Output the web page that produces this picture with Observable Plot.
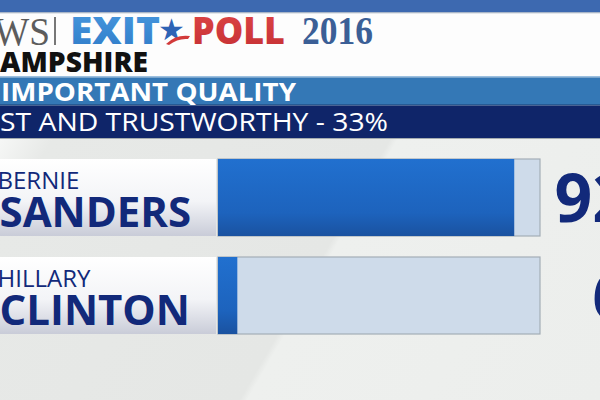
<!DOCTYPE html>
<html>
<head>
<meta charset="utf-8">
<script src="https://cdn.jsdelivr.net/npm/d3@7"></script>
<script src="https://cdn.jsdelivr.net/npm/@observablehq/plot@0.6"></script>
<style>
  html, body { margin: 0; padding: 0; }
  body { width: 600px; height: 400px; overflow: hidden; position: relative; font-family: "Open Sans", sans-serif; background: #e8eae8; }
  #header { position: absolute; left: 0; top: 0; width: 600px; height: 139px; }
  #chart { position: absolute; left: 0; top: 139px; width: 600px; height: 261px;
    background: linear-gradient(120deg, #f6f7f6 0%, #e7e9e7 7%, #e5e7e5 52%, #eef0ee 53%, #eceeec 100%); }
  #chart svg { display: block; }
</style>
</head>
<body>
<svg id="header" width="600" height="139" xmlns="http://www.w3.org/2000/svg">
  <defs>
    <linearGradient id="exitGrad" x1="0" y1="0" x2="0" y2="1">
      <stop offset="0" stop-color="#4a9be0"/>
      <stop offset="1" stop-color="#2f7bc8"/>
    </linearGradient>
    <linearGradient id="pollGrad" x1="0" y1="0" x2="0" y2="1">
      <stop offset="0" stop-color="#e04848"/>
      <stop offset="1" stop-color="#c42f33"/>
    </linearGradient>
  </defs>
  <rect x="0" y="0" width="600" height="12" fill="#3d69b0"/>
  <rect x="0" y="12" width="600" height="1.5" fill="#a9b6c8"/>
  <rect x="0" y="13.5" width="600" height="62.5" fill="#fdfdfd"/>
  <rect x="0" y="76" width="600" height="1.5" fill="#9cc0e0"/>
  <rect x="0" y="77.5" width="600" height="26.5" fill="#3478b6"/>
  <rect x="0" y="104" width="600" height="1.5" fill="#265a94"/>
  <rect x="0" y="105.5" width="600" height="32.5" fill="#0f2569"/>
  <rect x="0" y="138" width="600" height="1" fill="#a4acb0"/>
  <text x="-6" y="45" font-family="Liberation Serif" font-size="41" fill="#5c5c5c" textLength="56" lengthAdjust="spacingAndGlyphs">WS</text>
  <rect x="54" y="17" width="2" height="28" fill="#777"/>
  <text x="70" y="43.5" font-family="Open Sans" font-weight="800" font-size="37" fill="url(#exitGrad)" textLength="90" lengthAdjust="spacingAndGlyphs">EXIT</text>
  <text x="158" y="40" font-family="DejaVu Sans" font-size="30" fill="#2d63b5">★</text>
  <path d="M166 44 Q176 34 190 36 L188 39 Q178 38 169 45 Z" fill="#d23a3a"/>
  <text x="192" y="43.5" font-family="Open Sans" font-weight="800" font-size="37" fill="url(#pollGrad)" textLength="93" lengthAdjust="spacingAndGlyphs">POLL</text>
  <text x="302" y="44" font-family="Liberation Serif" font-weight="700" font-size="39" fill="#3b5f96" textLength="71" lengthAdjust="spacingAndGlyphs">2016</text>
  <text x="0" y="71.5" font-family="Open Sans" font-weight="800" font-size="28.5" fill="#111" textLength="148" lengthAdjust="spacingAndGlyphs">AMPSHIRE</text>
  <text x="1" y="100.5" font-family="Open Sans" font-weight="700" font-size="25.5" fill="#ffffff" textLength="295" lengthAdjust="spacingAndGlyphs">IMPORTANT QUALITY</text>
  <text x="0" y="131" font-family="Open Sans" font-weight="400" font-size="25.5" fill="#ffffff" textLength="388" lengthAdjust="spacingAndGlyphs">ST AND TRUSTWORTHY - 33%</text>
</svg>
<div id="chart"></div>
<script>
// ---- data ----
const firstNames = ["BERNIE", "HILLARY"];
const lastNames = ["SANDERS", "CLINTON"];
const shares = [92, 6];

const data = lastNames.map((last, i) => ({ first: firstNames[i], last, share: shares[i] }));

const navy = "#12297a";

const plot = Plot.plot({
  width: 600,
  height: 261,
  margin: 0,
  style: { background: "transparent", fontFamily: "Open Sans" },
  x: { domain: [0, 100], range: [218, 540], axis: null },
  y: { domain: lastNames, range: [19, 196], paddingInner: 0.2121, paddingOuter: 0, axis: null },
  marks: [
    // name panel behind labels
    Plot.barX(data, { x1: 0, x2: 0, y: "last", insetLeft: -218, insetRight: 2, fill: "url(#panelGrad)" }),
    // track
    Plot.barX(data, { x1: 0, x2: 100, y: "last", fill: "#cedbea", stroke: "#a4adb6", strokeWidth: 1.2 }),
    // filled share
    Plot.barX(data, { x1: 0, x2: "share", y: "last", fill: "url(#barGrad)" }),
    Plot.ruleX(data, { x: "share", y: "last", stroke: "#63aef2", strokeWidth: 1.5 }),
    // names
    Plot.text(data, { y: "last", text: "first", frameAnchor: "left", textAnchor: "start", lineAnchor: "bottom",
      dx: -3, dy: -9.5, fontSize: 24, fill: navy }),
    Plot.text(data, { y: "last", text: "last", frameAnchor: "left", textAnchor: "start", lineAnchor: "bottom",
      dx: -1, dy: 28.5, fontSize: 42, fontWeight: 700, fill: navy }),
    // values
    Plot.text(data, { y: "last", text: d => d.share + "%", frameAnchor: "right", textAnchor: "end", lineAnchor: "middle",
      dx: 89, dy: 3, fontSize: 66, fontWeight: 700, fill: navy })
  ]
});

const defs = d3.select(plot).insert("defs", ":first-child");
const bg = defs.append("linearGradient").attr("id", "barGrad").attr("x1", 0).attr("y1", 0).attr("x2", 0).attr("y2", 1);
bg.append("stop").attr("offset", 0).attr("stop-color", "#2170cf");
bg.append("stop").attr("offset", 0.7).attr("stop-color", "#1d63bd");
bg.append("stop").attr("offset", 1).attr("stop-color", "#1a52a0");
const pg = defs.append("linearGradient").attr("id", "panelGrad").attr("x1", 0).attr("y1", 0).attr("x2", 0).attr("y2", 1);
pg.append("stop").attr("offset", 0).attr("stop-color", "#ffffff");
pg.append("stop").attr("offset", 0.55).attr("stop-color", "#f3f4f7");
pg.append("stop").attr("offset", 1).attr("stop-color", "#c9ccd8");

document.getElementById("chart").appendChild(plot);
</script>
</body>
</html>
